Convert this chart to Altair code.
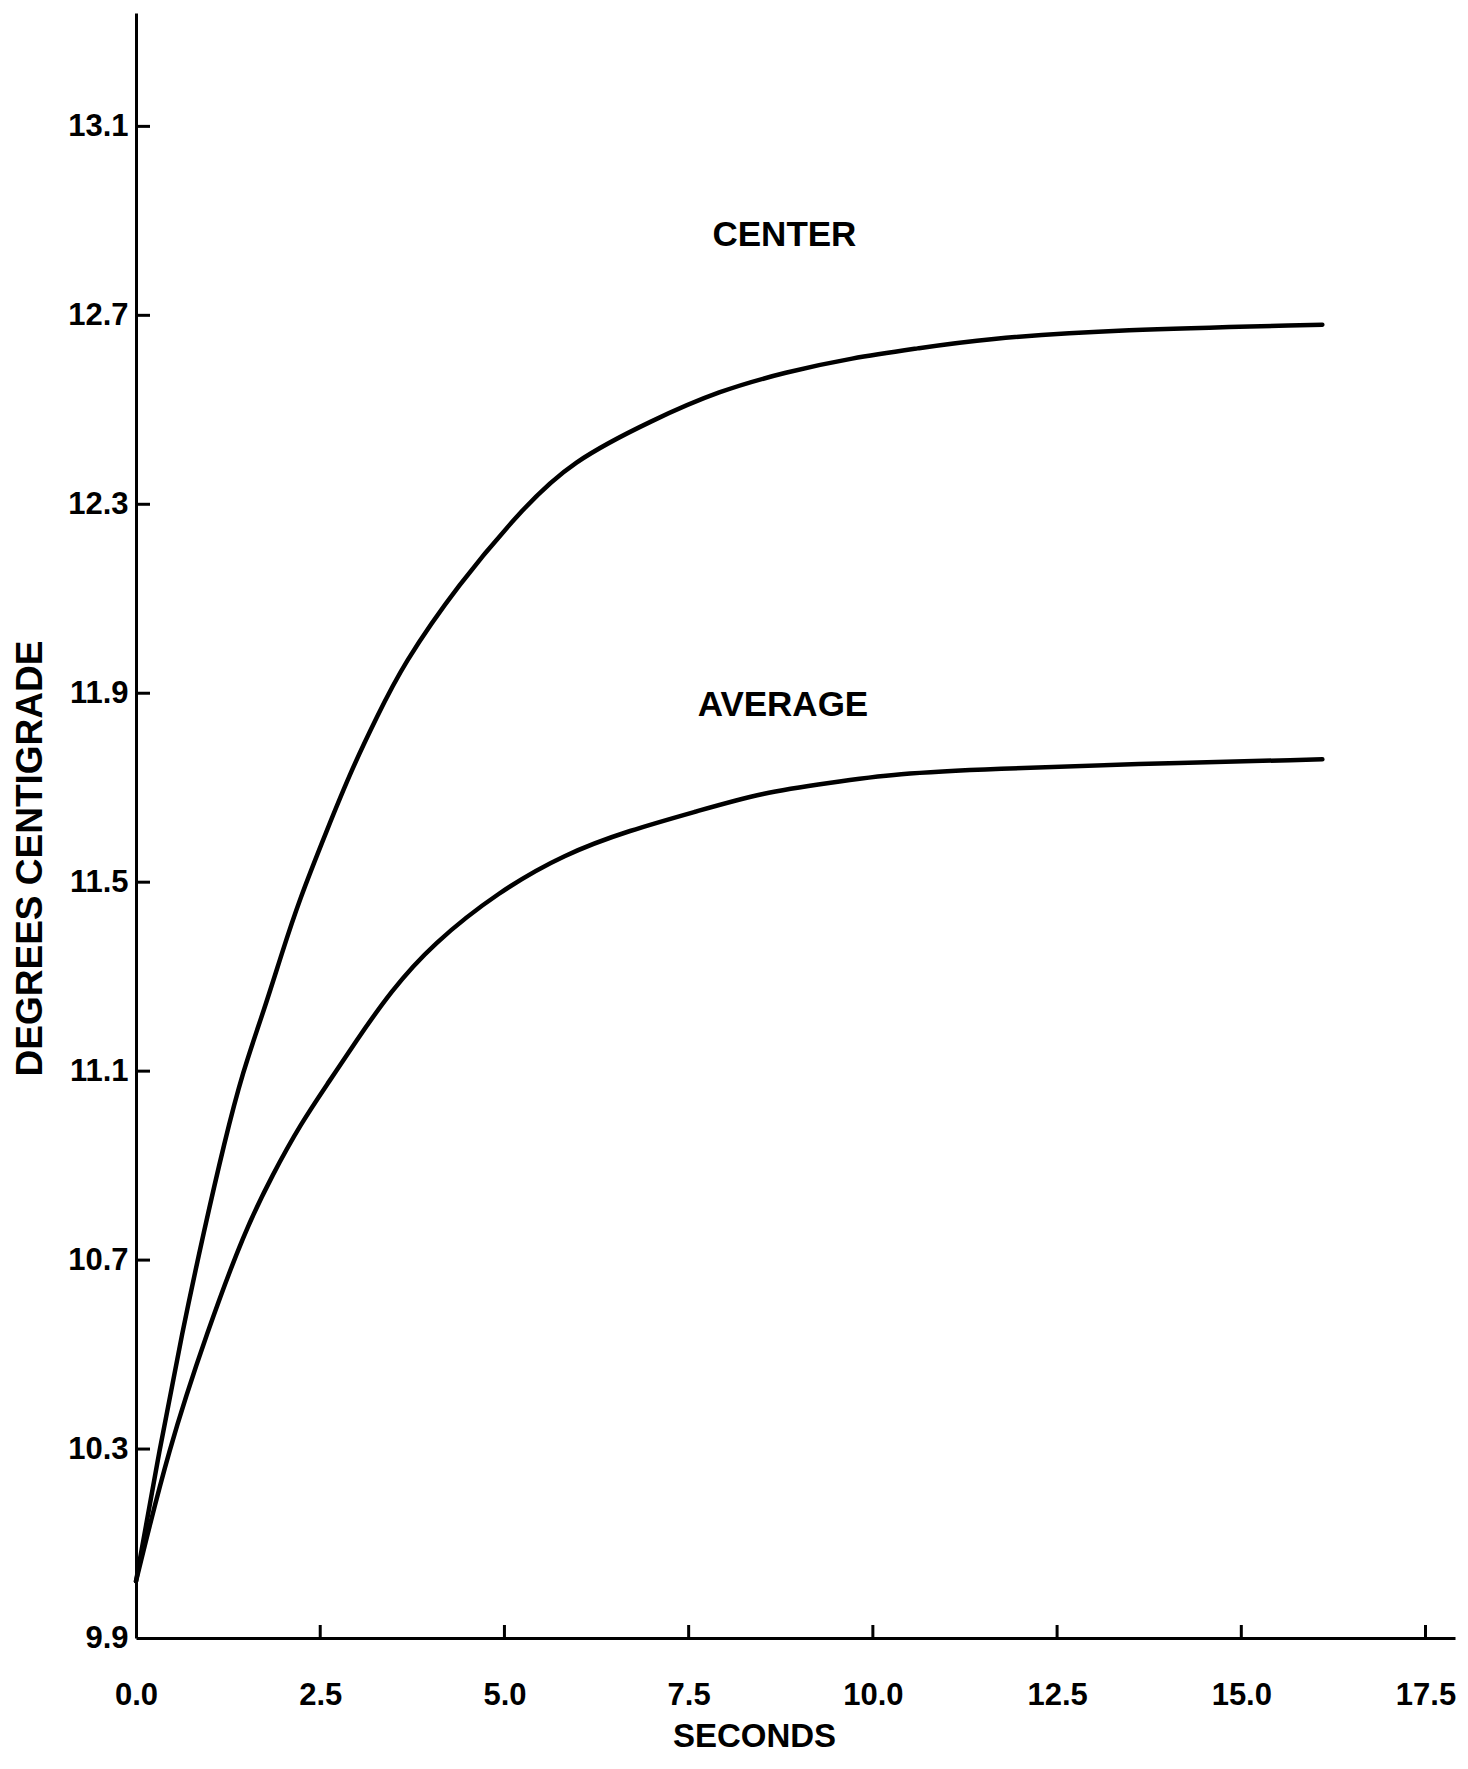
import altair as alt
import pandas as pd

# ---- data ----
center_t = [0.0, 0.32, 0.63, 0.92, 1.20, 1.45, 1.74, 1.98, 2.21, 2.59, 2.93, 3.27, 3.62,
            4.37, 5.24, 5.90, 7.03, 7.91, 8.82, 9.72, 10.61, 11.48, 13.32, 16.10]
center_v = [10.02, 10.30, 10.55, 10.76, 10.95, 11.10, 11.23, 11.35, 11.46, 11.61, 11.74, 11.85, 11.96,
            12.13, 12.29, 12.39, 12.48, 12.54, 12.58, 12.61, 12.63, 12.65, 12.67, 12.68]

average_t = [0.0, 0.44, 0.97, 1.47, 1.85, 2.24, 2.63, 2.97, 3.46, 4.03, 4.92, 5.82, 6.70,
             7.61, 8.51, 9.40, 10.31, 11.67, 13.47, 16.10]
average_v = [10.02, 10.30, 10.55, 10.76, 10.88, 10.99, 11.08, 11.16, 11.27, 11.37, 11.48, 11.56, 11.61,
             11.65, 11.69, 11.71, 11.73, 11.74, 11.75, 11.76]

x_ticks = [0.0, 2.5, 5.0, 7.5, 10.0, 12.5, 15.0, 17.5]
y_ticks = [9.9, 10.3, 10.7, 11.1, 11.5, 11.9, 12.3, 12.7, 13.1]

label_text = ["CENTER", "AVERAGE"]
label_x = [8.80, 8.78]
label_y = [12.87, 11.875]

# ---- layout ----
W, H = 1319, 1625
FONT = "Liberation Sans"

xs = alt.Scale(domain=[0, 17.9], nice=False, zero=False)
ys = alt.Scale(domain=[9.9, 13.34], nice=False, zero=False)

lines_df = pd.concat([
    pd.DataFrame({"t": center_t, "v": center_v, "series": "CENTER"}),
    pd.DataFrame({"t": average_t, "v": average_v, "series": "AVERAGE"}),
])

x_axis = alt.Axis(
    values=x_ticks, format=".1f", ticks=False, grid=False,
    domainColor="black", domainWidth=3,
    labelFont=FONT, labelFontSize=31, labelFontWeight="bold", labelColor="black",
    labelPadding=42, labelFlush=False, labelOverlap=False,
    title="SECONDS", titleFont=FONT, titleFontSize=33, titleFontWeight="bold",
    titleColor="black", titleX=618, titleY=98, titleAlign="center", titleBaseline="middle",
)
y_axis = alt.Axis(
    values=y_ticks, format=".1f", ticks=False, grid=False,
    domainColor="black", domainWidth=3,
    labelFont=FONT, labelFontSize=31, labelFontWeight="bold", labelColor="black",
    labelPadding=8, labelOverlap=False, labelFlush=False,
    title="DEGREES CENTIGRADE", titleFont=FONT, titleFontSize=37, titleFontWeight="bold",
    titleColor="black", titleAngle=270, titleX=-106, titleY=845,
    titleAlign="center", titleBaseline="middle",
)

X = alt.X("t:Q", scale=xs, axis=x_axis)
Y = alt.Y("v:Q", scale=ys, axis=y_axis)

lines = alt.Chart(lines_df).mark_line(
    color="black", strokeWidth=4.5, interpolate="basis", strokeCap="round"
).encode(x=X, y=Y, detail="series:N")

ytick_df = pd.DataFrame({"v": y_ticks[1:]})
yticks = alt.Chart(ytick_df).mark_rule(color="black", strokeWidth=3).encode(
    y=Y,
    x=alt.value(0),
    x2=alt.value(14),
)

xtick_df = pd.DataFrame({"t": x_ticks[1:]})
xticks = alt.Chart(xtick_df).mark_rule(color="black", strokeWidth=3).encode(
    x=X,
    y=alt.value(H),
    y2=alt.value(H - 13),
)

labels_df = pd.DataFrame({"t": label_x, "v": label_y, "text": label_text})
labels = alt.Chart(labels_df).mark_text(
    font=FONT, fontSize=35, fontWeight="bold", color="black",
    align="center", baseline="middle",
).encode(x=X, y=Y, text="text:N")

chart = alt.layer(lines, yticks, xticks, labels).properties(
    width=W, height=H,
    autosize=alt.AutoSizeParams(type="none"),
    padding={"left": 128, "top": 5, "right": 5, "bottom": 120},
    background="white",
).configure_view(stroke=None)

chart.save("out.html", embed_options={"renderer": "svg", "actions": False})
